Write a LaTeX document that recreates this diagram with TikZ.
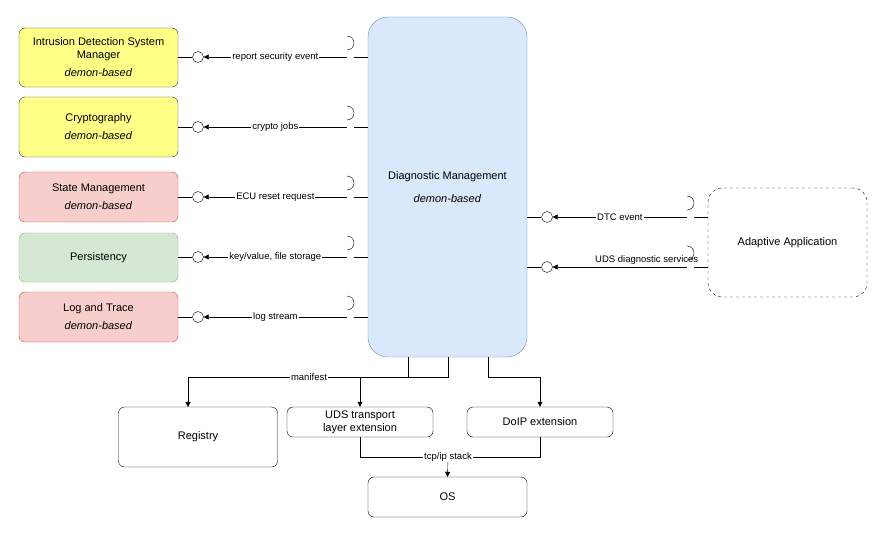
\documentclass[tikz,border=0pt]{standalone}
\usepackage{fontspec}
\setmainfont{Liberation Sans}
\usetikzlibrary{arrows.meta}
\definecolor{ylwfill}{HTML}{FFFF88}
\definecolor{ylwline}{HTML}{36393D}
\definecolor{redfill}{HTML}{F8CECC}
\definecolor{redline}{HTML}{B85450}
\definecolor{grnfill}{HTML}{D5E8D4}
\definecolor{grnline}{HTML}{82B366}
\definecolor{bluefill}{HTML}{DAE8FC}
\definecolor{blueline}{HTML}{6C8EBF}
\tikzset{
  comp/.style={draw, rounded corners=6pt, minimum width=159pt, align=center, font=\fontsize{11}{13}\selectfont},
  lbl/.style={fill=white, inner sep=1pt, font=\fontsize{9.5}{11}\selectfont},
  flow/.style={-{Triangle[length=5pt,width=5pt]}},
  ball/.style={circle, draw, fill=white, minimum size=11pt, inner sep=0pt}
}
\newcommand{\sock}[2]{\draw (#1,#2-7) arc[start angle=90,end angle=-90,radius=7];}
\newcommand{\sockR}[2]{\draw (#1,#2-7) arc[start angle=90,end angle=-90,radius=7];}
\begin{document}
\begin{tikzpicture}[x=1pt,y=-1pt]
\useasboundingbox (0,0) rectangle (888,535);
% components
\node[comp, fill=ylwfill, draw=ylwline, minimum height=59pt] (ids) at (98.5,57.5) {Intrusion Detection System\\Manager\\[5pt]\textit{demon-based}};
\node[comp, fill=ylwfill, draw=ylwline, minimum height=60pt] (crypto) at (98.5,127) {Cryptography\\[5pt]\textit{demon-based}};
\node[comp, fill=redfill, draw=redline, minimum height=50pt] (state) at (98.5,197) {State Management\\[5pt]\textit{demon-based}};
\node[comp, fill=grnfill, draw=grnline, minimum height=49pt] (pers) at (98.5,257.5) {Persistency};
\node[comp, fill=redfill, draw=redline, minimum height=50pt] (log) at (98.5,317) {Log and Trace\\[5pt]\textit{demon-based}};
\node[comp, fill=bluefill, draw=blueline, rounded corners=20pt, minimum height=340pt] (diag) at (447.5,187) {Diagnostic Management\\[10pt]\textit{demon-based}};
\node[comp, dashed, rounded corners=14pt, minimum height=109pt] (app) at (787.5,242.5) {Adaptive Application};
\node[comp, minimum height=60pt] (reg) at (198,437) {Registry};
\node[comp, minimum width=146pt, minimum height=30pt] (udst) at (360,422) {UDS transport\\layer extension};
\node[comp, minimum width=146pt, minimum height=30pt] (doip) at (540,422) {DoIP extension};
\node[comp, minimum height=40pt] (os) at (447.5,497) {OS};
% left interfaces
\foreach \src/\y/\txt in {ids/57/report security event, crypto/127/crypto jobs, state/197/ECU reset request, pers/257/{key/value, file storage}, log/317/log stream}{
  \node[ball] (b\src) at (198,\y) {};
  \coordinate (s\src) at (347,\y);
  \draw (\src.east |- b\src) -- (b\src);
  \draw (354,\y) -- (diag.west |- b\src);
  \sock{347}{\y}
  \draw[flow] (s\src) -- node[lbl] {\txt} (b\src.east);
}
% right interfaces
\node[ball] (bdtc) at (547,217) {};
\node[ball] (buds) at (547,267) {};
\draw (diag.east |- bdtc) -- (bdtc);
\draw (diag.east |- buds) -- (buds);
\coordinate (sdtc) at (687,217);
\coordinate (suds) at (687,267);
\sock{687}{217}
\sock{687}{267}
\draw (694,217) -- (app.west |- sdtc);
\draw (694,267) -- (app.west |- suds);
\draw[flow] (sdtc) -- node[lbl] {DTC event} (bdtc.east);
\draw[flow] (suds) -- node[font=\fontsize{9.5}{11}\selectfont, above=-1pt, pos=0.3] {UDS diagnostic services} (bdtc.east |- suds);
% bottom
\draw[flow] (408,357) -- (408,377) -- node[lbl, pos=0.45] {manifest} (188,377) -- (188,407);
\draw[flow] (448,357) -- (448,377) -- (360,377) -- (udst.north);
\draw[flow] (488,357) -- (488,377) -- (540,377) -- (doip.north);
\draw (udst.south) -- (360,457) -- (540,457) -- (doip.south);
\draw[flow] (448,457) -- (os.north);
\node[lbl] (tcp) at (448,457) {tcp/ip stack};
\end{tikzpicture}
\end{document}
